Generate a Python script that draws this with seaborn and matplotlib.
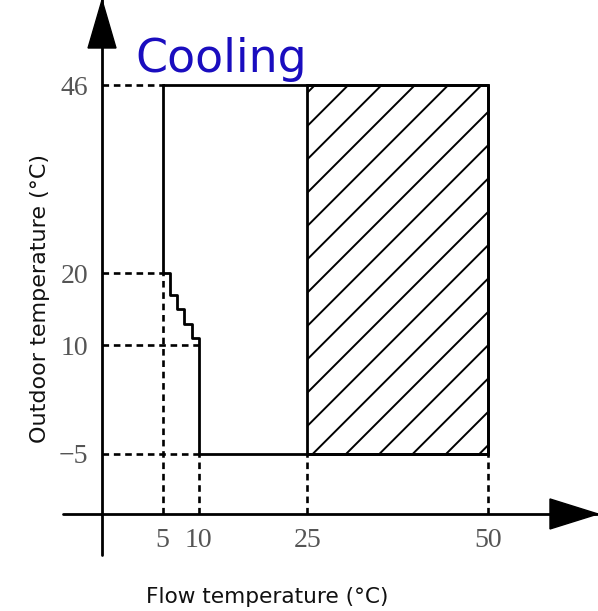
import numpy as np
import pandas as pd
import matplotlib
matplotlib.use("Agg")
import matplotlib.pyplot as plt
import seaborn as sns
from matplotlib.patches import Rectangle, Polygon

# ---- data ----
boundary_x = [5, 50, 50, 10, 10, 9, 9, 8, 8, 7, 7, 6, 6, 5, 5]
boundary_y = [46, 46, -5, -5, 11, 11, 13, 13, 15, 15, 17, 17, 20, 20, 46]
hatch_x = [25, 50]
hatch_y = [-5, 46]
x_ticks = [5, 10, 25, 50]
y_ticks = [-5, 10, 20, 46]
h_guide_y = [46, 20, 10, -5]
h_guide_end = [5, 5, 10, 10]
v_guide_x = [5, 10, 25, 50]
v_guide_top = [20, -5, -5, -5]

sns.set_style("white")
plt.rcParams["font.family"] = ["DejaVu Sans"]
plt.rcParams["hatch.linewidth"] = 0.7
plt.rcParams["hatch.color"] = "black"

fig = plt.figure(figsize=(2.99, 3.055), dpi=200)
ax = fig.add_axes([0.1706, 0.1588, 0.8294, 0.8412])
xlim = (-3.40, 65.22)
ylim = (-13.29, 57.75)
ax.set_xlim(*xlim)
ax.set_ylim(*ylim)

LW = 1.0
dash = (0, (2.5, 1.8))

# hatched region
ax.add_patch(Rectangle((hatch_x[0], hatch_y[0]), hatch_x[1] - hatch_x[0],
                       hatch_y[1] - hatch_y[0], fill=False, hatch="//",
                       edgecolor="black", linewidth=LW, zorder=2))

# boundary of operating range
df = pd.DataFrame({"x": boundary_x, "y": boundary_y})
sns.lineplot(data=df, x="x", y="y", sort=False, estimator=None,
             color="black", linewidth=LW, ax=ax, zorder=3)

# dashed guides
for yv, xe in zip(h_guide_y, h_guide_end):
    ax.plot([xlim[0], xe], [yv, yv], color="black", linewidth=0.95,
            linestyle=dash, zorder=2)
for xv, yt in zip(v_guide_x, v_guide_top):
    ax.plot([xv, xv], [ylim[0], yt], color="black", linewidth=0.95,
            linestyle=dash, zorder=2)

# axes styling
for s in ["top", "right"]:
    ax.spines[s].set_visible(False)
for s in ["left", "bottom"]:
    ax.spines[s].set_color("black")
    ax.spines[s].set_linewidth(LW)

ax.set_xticks(x_ticks)
ax.set_yticks(y_ticks)
ax.tick_params(length=0, pad=5, labelsize=10, labelcolor="#555555")
for lab in ax.get_xticklabels() + ax.get_yticklabels():
    lab.set_fontfamily("Liberation Serif")

# axis extensions and arrowheads
ax.plot([0, 0], [0, -0.0798], transform=ax.transAxes, clip_on=False,
        color="black", linewidth=LW)
ax.plot([0, -0.0786], [0, 0], transform=ax.transAxes, clip_on=False,
        color="black", linewidth=LW)
ax.add_patch(Polygon([[0, 1.0], [-0.0282, 0.9066], [0.0282, 0.9066]],
                     closed=True, transform=ax.transAxes, clip_on=False,
                     facecolor="black", edgecolor="black", linewidth=0.5))
ax.add_patch(Polygon([[1.0, 0], [0.9032, 0.0292], [0.9032, -0.0292]],
                     closed=True, transform=ax.transAxes, clip_on=False,
                     facecolor="black", edgecolor="black", linewidth=0.5))

# labels
ax.set_xlabel("Flow temperature (°C)", fontsize=7.8, color="#111111")
ax.xaxis.label.set_va("baseline")
ax.xaxis.set_label_coords(0.3337, -0.1732)
ax.set_ylabel("Outdoor temperature (°C)", fontsize=8.0, color="#111111")
ax.yaxis.label.set_va("center")
ax.yaxis.set_label_coords(-0.125, 0.4183)

fig.text(0.2258, 0.8822, "Cooling", color="#1a0dbf", fontsize=16.5,
         ha="left", va="baseline")

fig.savefig("out.png", dpi=200)
